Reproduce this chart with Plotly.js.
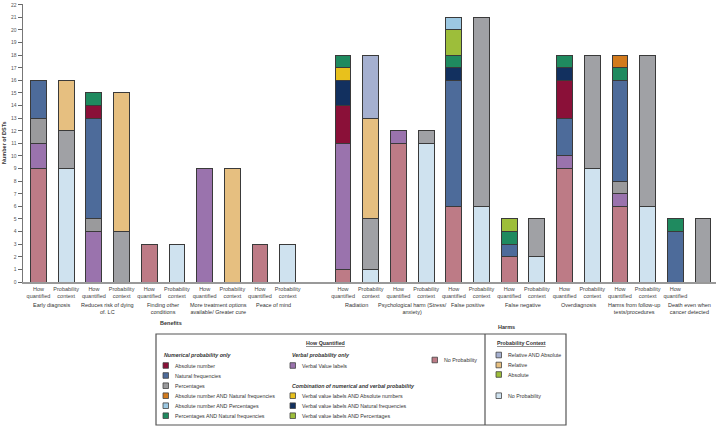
<!DOCTYPE html>
<html>
<head>
<meta charset="utf-8">
<script src="https://cdn.plot.ly/plotly-3.0.1.min.js"></script>
<style>
  body { margin: 0; background: #fff; }
  #chart { width: 716px; height: 426px; }
</style>
</head>
<body>
<div id="chart"></div>
<script>
// categories, benefits first then harms
const categories = ["Early diagnosis", "Reduces risk of dying<br>of. LC", "Finding other<br>conditions",
    "More treatment options<br>available/ Greater cure", "Peace of mind",
    "Radiation", "Psychological harm (Stress/<br>anxiety)", "False positive", "False negative",
    "Overdiagnosis", "Harms from follow-up<br>tests/procedures", "Death even when<br>cancer detected"];
const nBenefits = 5;

// How quantified (bottom to top)
const hqNoProb      = [9, 0, 3, 0, 3, 1, 11, 6, 2, 9, 6, 0];
const hqVerbal      = [2, 4, 0, 9, 0, 10, 1, 0, 0, 1, 1, 0];
const hqPercentages = [2, 1, 0, 0, 0, 0, 0, 0, 0, 0, 1, 0];
const hqNatFreq     = [3, 8, 0, 0, 0, 0, 0, 10, 1, 3, 8, 4];
const hqAbsNumber   = [0, 1, 0, 0, 0, 3, 0, 0, 0, 3, 0, 0];
const hqVvlNatFreq  = [0, 0, 0, 0, 0, 2, 0, 1, 0, 1, 0, 0];
const hqVvlAbs      = [0, 0, 0, 0, 0, 1, 0, 0, 0, 0, 0, 0];
const hqPctNatFreq  = [0, 1, 0, 0, 0, 1, 0, 1, 1, 1, 1, 1];
const hqVvlPct      = [0, 0, 0, 0, 0, 0, 0, 2, 1, 0, 0, 0];
const hqAbsPct      = [0, 0, 0, 0, 0, 0, 0, 1, 0, 0, 0, 0];
const hqAbsNatFreq  = [0, 0, 0, 0, 0, 0, 0, 0, 0, 0, 1, 0];

// Probability context (bottom to top)
const pcNoProb   = [9, 0, 3, 0, 3, 1, 11, 6, 2, 9, 6, 0];
const pcOther    = [3, 4, 0, 0, 0, 4, 1, 15, 3, 9, 12, 5];
const pcRelative = [4, 11, 0, 9, 0, 8, 0, 0, 0, 0, 0, 0];
const pcRelAbs   = [0, 0, 0, 0, 0, 5, 0, 0, 0, 0, 0, 0];

const barLabels = ["How<br>quantified", "Probability<br>context"];

const FONT = "Liberation Sans, Arial, sans-serif";

// slot of the how-quantified bar of each category (gap between benefits and harms)
function slotOf(i) {
    return i < nBenefits ? 2 * i : 2 * i + 1;
}

const hqX = categories.map((c, i) => slotOf(i));
const pcX = hqX.map(v => v + 1);

function bars(x, vals, color, name) {
    return {
        type: 'bar',
        name: name,
        x: x,
        y: vals.map(v => v === 0 ? null : v),
        width: 0.57,
        marker: { color: color, line: { color: '#3a3a3a', width: 1 } },
        hoverinfo: 'name+y'
    };
}

const data = [
    bars(hqX, hqNoProb, '#bd7b86', 'No Probability'),
    bars(hqX, hqVerbal, '#9a73ad', 'Verbal Value labels'),
    bars(hqX, hqPercentages, '#9a9a9c', 'Percentages'),
    bars(hqX, hqNatFreq, '#4d6b9a', 'Natural frequencies'),
    bars(hqX, hqAbsNumber, '#8a1038', 'Absolute number'),
    bars(hqX, hqVvlNatFreq, '#12305f', 'Verbal value labels AND Natural frequencies'),
    bars(hqX, hqVvlAbs, '#e8c11c', 'Verbal value labels AND Absolute numbers'),
    bars(hqX, hqPctNatFreq, '#1f8a5f', 'Percentages AND Natural frequencies'),
    bars(hqX, hqVvlPct, '#9dbe3a', 'Verbal value labels AND Percentages'),
    bars(hqX, hqAbsPct, '#9cc8e2', 'Absolute number AND Percentages'),
    bars(hqX, hqAbsNatFreq, '#d27a1c', 'Absolute number AND Natural frequencies'),
    bars(pcX, pcNoProb, '#cfe2ef', 'No Probability'),
    bars(pcX, pcOther, '#a0a1a5', 'Other'),
    bars(pcX, pcRelative, '#e6bf80', 'Relative'),
    bars(pcX, pcRelAbs, '#a5b0d0', 'Relative AND Absolute')
];

// pixel helpers for the legend box (plot area: l=23, t=4, w=693, h=278)
const L = 23, T = 4, W = 693, H = 278;
function px(x) { return (x - L) / W; }
function py(y) { return (T + H - y) / H; }

const annotations = [];
const shapes = [];

// category labels under the tick labels
categories.forEach((c, i) => {
    annotations.push({
        text: c, x: hqX[i] + 0.5, xref: 'x', y: py(299.5), yref: 'paper',
        xanchor: 'center', yanchor: 'top', showarrow: false,
        font: { family: FONT, size: 5.5, color: '#333' }
    });
});
annotations.push({ text: '<b>Benefits</b>', x: px(158), xref: 'paper', y: py(323), yref: 'paper',
    yanchor: 'middle', showarrow: false, font: { family: FONT, size: 5.5, color: '#333' } });
annotations.push({ text: '<b>Harms</b>', x: px(517), xref: 'paper', y: py(327), yref: 'paper',
    yanchor: 'middle', showarrow: false, font: { family: FONT, size: 5.5, color: '#333' } });
annotations.push({ text: '<b>Number of DSTs</b>', x: px(4), xref: 'paper', y: py(143), yref: 'paper',
    xanchor: 'center', textangle: -90, showarrow: false, font: { family: FONT, size: 5.5, color: '#333' } });

// legend boxes
shapes.push({ type: 'rect', xref: 'paper', yref: 'paper', x0: px(156), x1: px(566), y0: py(334), y1: py(425),
    line: { color: '#555', width: 1.2 } });
shapes.push({ type: 'line', xref: 'paper', yref: 'paper', x0: px(485), x1: px(485), y0: py(334), y1: py(425),
    line: { color: '#555', width: 1.2 } });

function legText(text, x, y, anchor) {
    annotations.push({ text: text, x: px(x), xref: 'paper', y: py(y), yref: 'paper',
        xanchor: anchor || 'left', yanchor: 'middle', showarrow: false,
        font: { family: FONT, size: 5.3, color: '#333' } });
}
function legItem(color, text, x, y) {
    shapes.push({ type: 'rect', xref: 'paper', yref: 'paper', x0: px(x), x1: px(x + 5.5), y0: py(y - 2.8), y1: py(y + 2.8),
        fillcolor: color, line: { color: '#444', width: 0.8 } });
    legText(text, x + 10, y);
}

legText('<b><u>How Quantified</u></b>', 325, 343, 'center');
legText('<b><i>Numerical probability only</i></b>', 162, 355);
legItem('#8a1038', 'Absolute number', 163, 365.5);
legItem('#4d6b9a', 'Natural frequencies', 163, 375.5);
legItem('#9a9a9c', 'Percentages', 163, 385.7);
legItem('#d27a1c', 'Absolute number AND Natural frequencies', 163, 395.7);
legItem('#9cc8e2', 'Absolute number AND Percentages', 163, 405.7);
legItem('#1f8a5f', 'Percentages AND Natural frequencies', 163, 415.7);
legText('<b><i>Verbal probability only</i></b>', 290, 355);
legItem('#9a73ad', 'Verbal Value labels', 290, 365.5);
legText('<b><i>Combination of numerical and verbal probability</i></b>', 290, 385.7);
legItem('#e8c11c', 'Verbal value labels AND Absolute numbers', 290, 395.7);
legItem('#12305f', 'Verbal value labels AND Natural frequencies', 290, 405.7);
legItem('#9dbe3a', 'Verbal value labels AND Percentages', 290, 415.7);
legItem('#bd7b86', 'No Probability', 432, 360);

legText('<b><u>Probability Context</u></b>', 495, 343);
legItem('#a5b0d0', 'Relative AND Absolute', 496, 355);
legItem('#e6bf80', 'Relative', 496, 365);
legItem('#9dbe3a', 'Absolute', 496, 374.5);
legItem('#cfe2ef', 'No Probability', 496, 395.7);

const tickvals = hqX.concat(pcX);
const ticktext = hqX.map(() => barLabels[0]).concat(pcX.map(() => barLabels[1]));

const layout = {
    width: 716, height: 426,
    margin: { l: L, r: 0, t: T, b: 426 - T - H },
    barmode: 'stack',
    showlegend: false,
    paper_bgcolor: '#fff', plot_bgcolor: '#fff',
    font: { family: FONT, color: '#333' },
    xaxis: {
        range: [-0.56, 24.47],
        tickvals: tickvals, ticktext: ticktext,
        ticks: '', tickfont: { family: FONT, size: 5.5, color: '#444' },
        showgrid: false, zeroline: false,
        showline: true, linecolor: '#999', linewidth: 2
    },
    yaxis: {
        range: [0, 22.06], dtick: 1, tick0: 0,
        ticks: 'outside', ticklen: 4, tickcolor: '#666', tickwidth: 1,
        tickfont: { family: FONT, size: 5, color: '#555' },
        showgrid: false, zeroline: false,
        showline: true, linecolor: '#777', linewidth: 1.5
    },
    annotations: annotations,
    shapes: shapes
};

Plotly.newPlot('chart', data, layout, { displayModeBar: false, staticPlot: true });
</script>
</body>
</html>
